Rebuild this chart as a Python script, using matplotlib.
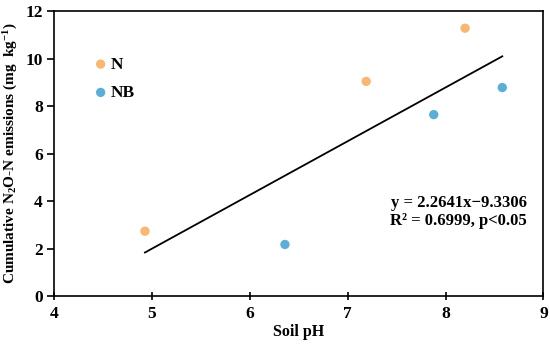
import matplotlib
matplotlib.use("Agg")
import matplotlib.pyplot as plt
import numpy as np

plt.rcParams['font.family'] = ['Liberation Serif', 'DejaVu Serif']
plt.rcParams['font.weight'] = 'bold'
plt.rcParams['mathtext.fontset'] = 'custom'
plt.rcParams['mathtext.rm'] = 'Liberation Serif:bold'
plt.rcParams['mathtext.bf'] = 'Liberation Serif:bold'
plt.rcParams['mathtext.it'] = 'Liberation Serif:bold:italic'

n_ph = [4.93, 7.19, 8.20]
n_em = [2.73, 9.04, 11.28]
nb_ph = [6.36, 7.88, 8.58]
nb_em = [2.17, 7.64, 8.78]
slope, intercept = 2.2641, -9.3306
fit_x = [4.93, 8.58]

fig = plt.figure(figsize=(5.5, 3.47), dpi=100)
ax = fig.add_axes([0.098, 0.147, 0.89, 0.821])

ax.scatter(n_ph, n_em, s=45, color='#F9B771', label='N', zorder=3, edgecolors='none')
ax.scatter(nb_ph, nb_em, s=45, color='#5BAED6', label='NB', zorder=3, edgecolors='none')
fx = np.array(fit_x)
ax.plot(fx, slope * fx + intercept, color='black', lw=1.3)

ax.set_xlim(4, 9)
ax.set_ylim(0, 12)
ax.set_xticks(range(4, 10))
ax.set_yticks(range(0, 13, 2))
ax.tick_params(axis='x', direction='inout', length=6, width=1.2, labelsize=12.5, pad=4)
ax.tick_params(axis='y', direction='out', length=5, width=1.2, labelsize=12.5, pad=3)
for sp in ax.spines.values():
    sp.set_linewidth(1.2)

ax.set_xlabel('Soil pH', fontsize=11.5, fontweight='bold', labelpad=2)
ax.set_ylabel('Cumulative N$_\\mathbf{2}$O-N emissions (mg  kg$^{\\mathbf{-1}}$)', fontsize=11, fontweight='bold', labelpad=4)

ax.text(0.967, 0.295, 'y = 2.2641x\u22129.3306\nR\u00b2 = 0.6999, p<0.05', transform=ax.transAxes,
        ha='right', va='center', fontsize=12, fontweight='bold', linespacing=1.2)

leg = ax.legend(loc='upper left', bbox_to_anchor=(0.06, 0.865), frameon=False, fontsize=12.5,
                handletextpad=0.0, labelspacing=0.7, borderaxespad=0, handlelength=1.2)

fig.savefig('out.png', dpi=100)
